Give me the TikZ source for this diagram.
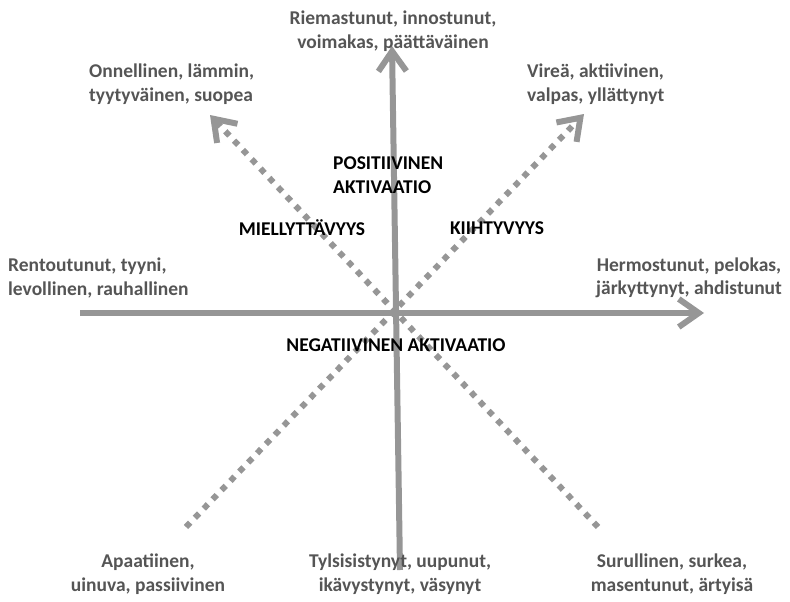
\documentclass[tikz,border=0pt]{standalone}
\usepackage{fontspec}
\setmainfont{Carlito}
\usetikzlibrary{arrows.meta}
\definecolor{axisgray}{HTML}{969696}
\definecolor{textgray}{HTML}{555555}

\begin{document}
\begin{tikzpicture}[x=1pt, y=-1pt,
  axis/.style={draw=axisgray, line width=6pt, -{Straight Barb[length=20pt, width=28pt]}},
  diag/.style={draw=axisgray, line width=6pt, dash pattern=on 6pt off 6.8pt,
    -{Straight Barb[length=20pt, width=28pt]}},
  mood/.style={text=textgray, font=\fontsize{19.5}{23.5}\selectfont\bfseries, inner sep=0pt},
  dimlabel/.style={text=black, font=\fontsize{19.5}{24}\selectfont\bfseries, inner sep=0pt}]
\useasboundingbox (0,0) rectangle (790,602);

% Axis end points
\coordinate (west) at (80,313);
\coordinate (east) at (704,313);
\coordinate (south) at (400,570);
\coordinate (north) at (392,46);
\coordinate (se) at (598,527);
\coordinate (nw) at (210,115);
\coordinate (sw) at (186,527);
\coordinate (ne) at (584,114);

% Axes
\draw[axis] (west) -- (east);
\draw[axis] (south) -- (north);
\draw[diag] (se) -- (nw);
\draw[diag] (sw) -- (ne);

% Mood words
\node[mood, align=center] (riem) at (393,31) {Riemastunut, innostunut,\\voimakas, päättäväinen};
\node[mood, align=left, anchor=west] (onn) at (89,84) {Onnellinen, lämmin,\\tyytyväinen, suopea};
\node[mood, align=left, anchor=west] (vir) at (527,84) {Vireä, aktiivinen,\\valpas, yllättynyt};
\node[mood, align=left, anchor=west] (rent) at (8,278) {Rentoutunut, tyyni,\\levollinen, rauhallinen};
\node[mood, align=center] (herm) at (689,278) {Hermostunut, pelokas,\\järkyttynyt, ahdistunut};
\node[mood, align=center] (apa) at (148,574) {Apaatiinen,\\uinuva, passiivinen};
\node[mood, align=center] (tyl) at (400,574) {Tylsisistynyt, uupunut,\\ikävystynyt, väsynyt};
\node[mood, align=center] (sur) at (672,574) {Surullinen, surkea,\\masentunut, ärtyisä};

% Dimension labels
\node[dimlabel, align=left, anchor=west] (posakt) at (333,175) {POSITIIVINEN\\AKTIVAATIO};
\node[dimlabel] (miel) at (302,228) {MIELLYTTÄVYYS};
\node[dimlabel] (kiih) at (497,228) {KIIHTYVYYS};
\node[dimlabel] (negakt) at (396,345) {NEGATIIVINEN AKTIVAATIO};
\end{tikzpicture}
\end{document}
